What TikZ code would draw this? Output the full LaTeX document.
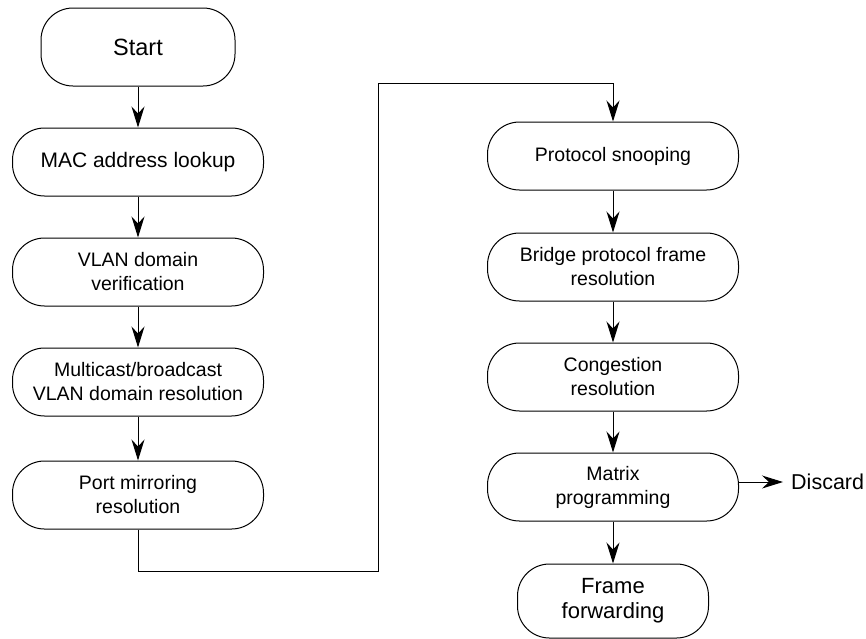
\documentclass[tikz,border=0pt]{standalone}
\usepackage{fontspec}
\setmainfont{Liberation Sans}
\usetikzlibrary{arrows.meta}
\begin{document}
\begin{tikzpicture}[x=1pt,y=-1pt,
  box/.style={draw, line width=1pt, rounded corners=32pt, align=center, inner sep=0pt,
    minimum width=251pt, minimum height=68pt, font=\fontsize{19.5}{24}\selectfont},
  arr/.style={draw, line width=1pt, -{Stealth[length=21pt,width=13pt,inset=7pt]}}]
\useasboundingbox (0,0) rectangle (866,638);
% left column
\node[box, minimum width=194pt, minimum height=78pt, font=\fontsize{23.5}{28}\selectfont] (start) at (138,47) {Start};
\node[box, font=\fontsize{21}{25}\selectfont] (mac) at (138,162) {MAC address lookup};
\node[box] (vlan) at (138,272) {VLAN domain\\verification};
\node[box] (mcast) at (138,382) {Multicast/broadcast\\VLAN domain resolution};
\node[box] (port) at (138,495) {Port mirroring\\resolution};
% right column
\node[box] (proto) at (613,156) {Protocol snooping};
\node[box] (bridge) at (613,267) {Bridge protocol frame\\resolution};
\node[box] (cong) at (613,377) {Congestion\\resolution};
\node[box] (matrix) at (613,487) {Matrix\\programming};
\node[box, minimum width=191pt, minimum height=74pt, font=\fontsize{22}{25}\selectfont] (frame) at (613,601) {Frame\\forwarding};
\node[anchor=west, inner xsep=8pt, inner ysep=0pt, font=\fontsize{21.5}{25}\selectfont] (disc) at (783,482) {Discard};
% connectors
\draw[arr] (start) -- (mac);
\draw[arr] (mac) -- (vlan);
\draw[arr] (vlan) -- (mcast);
\draw[arr] (mcast) -- (port);
\coordinate (c2) at (378,571);
\coordinate (c4) at (613,83);
\draw[arr] (port.south) |- (c2) |- (c4) -- (proto.north);
\draw[arr] (proto) -- (bridge);
\draw[arr] (bridge) -- (cong);
\draw[arr] (cong) -- (matrix);
\draw[arr] (matrix) -- (frame);
\draw[arr] (matrix.east |- disc.west) -- (disc.west);
\end{tikzpicture}
\end{document}
